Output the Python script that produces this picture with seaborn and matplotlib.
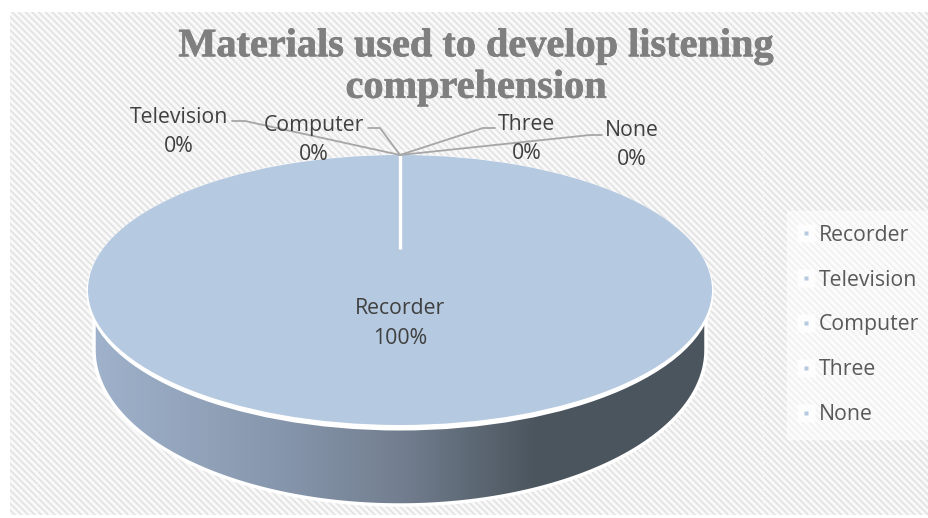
import numpy as np
import matplotlib
matplotlib.use("Agg")
import matplotlib.pyplot as plt
import matplotlib.patheffects as pe
from matplotlib.colors import LinearSegmentedColormap
from matplotlib.legend_handler import HandlerTuple
from matplotlib.lines import Line2D
from matplotlib.patches import Ellipse, Polygon, Rectangle
import seaborn as sns

# data
categories = ["Recorder", "Television", "Computer", "Three", "None"]
values = [100, 0, 0, 0, 0]
title = "Materials used to develop listening\ncomprehension"

W, H = 929, 518
PIE_BLUE = "#b5c9e0"
TEXT = "#404040"
FS = 15.3

sns.set_theme(style="white")
plt.rcParams["font.family"] = ["Open Sans", "DejaVu Sans"]
plt.rcParams["hatch.linewidth"] = 1.2

fig = plt.figure(figsize=(W / 100, H / 100), dpi=100, facecolor="white")

# overlay axes in pixels, y going down
bg = fig.add_axes([0, 0, 1, 1], zorder=0)
bg.axis("off")
bg.add_patch(Rectangle((10, 12), W - 10, H - 15, facecolor="#f9f9f9",
                       edgecolor="#e2e2e2", hatch="\\" * 5, linewidth=0))

# faint dashed lines in the backdrop
bg.plot([37, 763], [150, 150], color="white", lw=0.8, ls=(0, (2, 2)), alpha=0.5)
bg.plot([37, 37], [150, 515], color="white", lw=0.8, ls=(0, (2, 2)), alpha=0.5)
bg.plot([763, 763], [150, 515], color="white", lw=0.8, ls=(0, (2, 2)), alpha=0.5)

# side of the disc, gradient clipped to the lower arc
cx, cy_top, rx, ry = 400, 290, 312, 135
t = np.linspace(np.pi, 0, 200)
wall_x = cx + 306 * np.cos(t)
wall_y = 350 + 155 * np.sin(t)
wall = Polygon(np.column_stack([np.r_[cx - 306, wall_x, cx + 306],
                                np.r_[cy_top, wall_y, cy_top]]),
               facecolor="none", edgecolor="white", linewidth=2.5, zorder=2)
bg.add_patch(wall)
wall_cmap = LinearSegmentedColormap.from_list(
    "wall", [(0, "#a0b3cc"), (0.3, "#8797ad"), (0.5, "#737f90"), (0.72, "#4b555e"), (1, "#4b555e")])
grad = bg.imshow(np.linspace(0, 1, 256)[None, :], cmap=wall_cmap, aspect="auto",
                 extent=(cx - rx, cx + rx, H, 0), zorder=1)
grad.set_clip_path(wall)
# white rim, thicker at the front
bg.add_patch(Ellipse((cx, cy_top + 2.5), 2 * rx + 3, 2 * ry + 6, facecolor="white", edgecolor="none", zorder=3))
bg.set_xlim(0, W)
bg.set_ylim(H, 0)

# the pie itself, squashed into the top ellipse
pie_ax = fig.add_axes([(cx - rx) / W, 1 - (cy_top + ry) / H, 2 * rx / W, 2 * ry / H], zorder=1)
wedges, _ = pie_ax.pie(values, colors=[PIE_BLUE] * len(values), startangle=90, counterclock=False,
                       wedgeprops={"edgecolor": "none", "clip_on": False})
pie_ax.set_aspect("auto")
pie_ax.set_xlim(-1, 1)
pie_ax.set_ylim(-1, 1)

# text and leaders on top
top = fig.add_axes([0, 0, 1, 1], zorder=2)
top.set_xlim(0, W)
top.set_ylim(H, 0)
top.axis("off")
top.patch.set_alpha(0)

top.plot([400, 400], [155, 249], color="white", lw=2.4, solid_capstyle="butt")

leaders = [
    ([232, 245, 400], [121, 121, 155]),
    ([368, 380, 400], [128, 128, 155]),
    ([495, 483, 400], [128, 128, 155]),
    ([602, 590, 400], [135, 135, 155]),
]
for lx, ly in leaders:
    top.plot(lx, ly, color="#a6a6a6", lw=1.3)

label_pos = [(400, 323.5), (179, 132), (314, 140), (527, 139), (632, 145)]
for name, val, (px, py) in zip(categories, values, label_pos):
    top.text(px, py, f"{name}\n{val}%", ha="center", va="center", fontsize=FS,
             color=TEXT, linespacing=1.5)

title_txt = top.text(476, 67.5, title, ha="center", va="center", fontsize=29, fontweight="bold",
                     family=["Liberation Serif", "DejaVu Serif"], color="#7f7f7f", linespacing=1.16)
title_txt.set_path_effects([pe.withStroke(linewidth=0.5, foreground="#7f7f7f")])

handles = [(Line2D([], [], linestyle="none", marker="s", markersize=13, color="white", alpha=0.8,
                   markeredgecolor="none"),
            Line2D([], [], linestyle="none", marker="s", markersize=3.2, color=PIE_BLUE,
                   markeredgecolor="none")) for _ in categories]
leg = top.legend(handles, categories, loc="upper left", bbox_to_anchor=(787 / W, 1 - 211 / H),
                 handler_map={tuple: HandlerTuple(ndivide=1, pad=0)},
                 fontsize=FS, labelcolor="#595959", frameon=True, framealpha=0.5, facecolor="white",
                 edgecolor="white", fancybox=False, labelspacing=1.12, handlelength=0.47,
                 handletextpad=0.38, borderpad=0.65, borderaxespad=0)

fig.savefig("out.png", dpi=100)
